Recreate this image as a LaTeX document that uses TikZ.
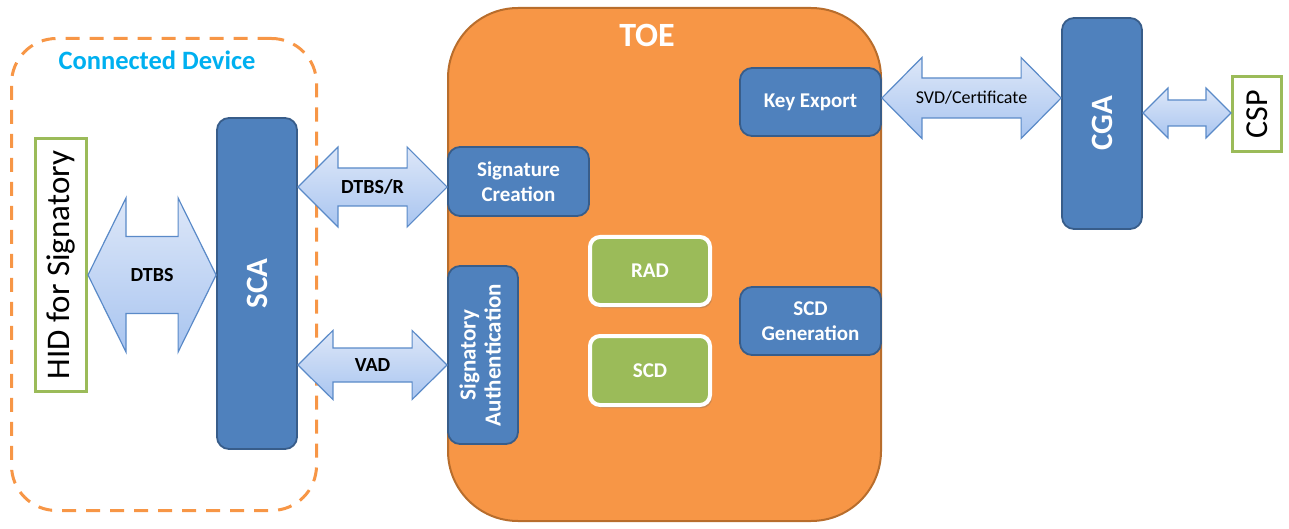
\documentclass[tikz,border=0pt]{standalone}
\usepackage{fontspec}
\setmainfont{Carlito}
\usetikzlibrary{calc,shadows}
\definecolor{boxblue}{HTML}{4F81BD}
\definecolor{boxbluedark}{HTML}{385D8A}
\definecolor{toeorange}{HTML}{F79646}
\definecolor{toeborder}{HTML}{B86D2C}
\definecolor{grn}{HTML}{9BBB59}
\definecolor{cyantext}{HTML}{00B0F0}
\definecolor{arrtop}{HTML}{DDE7F8}
\definecolor{arrbot}{HTML}{A9C5F0}
\definecolor{arrline}{HTML}{5A8AC8}
\tikzset{
  bluebox/.style={draw=boxbluedark, line width=1.8pt, fill=boxblue, rounded corners=12pt,
    text=white, inner sep=0pt, align=center},
  greenbox/.style={draw=white, line width=4pt, fill=grn, rounded corners=10pt, text=white,
    inner sep=0pt, font=\bfseries\fontsize{21}{24}\selectfont,
    drop shadow={shadow xshift=2pt, shadow yshift=-3pt, opacity=0.3, fill=black!60}},
  whitebox/.style={draw=grn, line width=3pt, fill=white, inner sep=0pt, text=black},
  arrowbody/.style={top color=arrtop, bottom color=arrbot, draw=arrline, line width=1.2pt, line join=miter},
  arrowlabel/.style={text=black, inner sep=0pt, font=\bfseries\fontsize{20}{22}\selectfont},
  inner/.style={font=\bfseries\fontsize{21}{25}\selectfont}
}
% #1 from anchor, #2 to anchor, #3 y, #4 head length, #5 half head, #6 half shaft
\newcommand\blockarrow[6]{%
  \shade[arrowbody] let \p1=(#1), \p2=(#2), \p3=(0,#3) in
    (\x1,\y3) -- (\x1+#4pt,\y3+#5pt) -- (\x1+#4pt,\y3+#6pt) -- (\x2-#4pt,\y3+#6pt)
    -- (\x2-#4pt,\y3+#5pt) -- (\x2,\y3) -- (\x2-#4pt,\y3-#5pt) -- (\x2-#4pt,\y3-#6pt)
    -- (\x1+#4pt,\y3-#6pt) -- (\x1+#4pt,\y3-#5pt) -- cycle;
}
% #1 from anchor, #2 to anchor, #3 y, #4 name, #5 style, #6 text
\newcommand\arrowtext[6]{%
  \path let \p1=(#1), \p2=(#2), \p3=(0,#3) in
    node[arrowlabel,#5] (#4) at ({(\x1+\x2)/2},\y3) {#6};
}
\begin{document}
\begin{tikzpicture}[x=1pt,y=-1pt]
\useasboundingbox (0,0) rectangle (1289,529);

% Connected device (dashed)
\node[draw=toeorange, line width=3pt, dash pattern=on 14pt off 10pt, rounded corners=45pt,
      minimum width=305pt, minimum height=472pt, inner sep=0pt] (dev) at (164,274.5) {};
\node[text=cyantext, font=\bfseries\fontsize{26.5}{28}\selectfont, inner sep=0pt] (devlabel) at (157,60) {Connected Device};

% TOE
\node[draw=toeborder, line width=2pt, fill=toeorange, rounded corners=70pt,
      minimum width=433pt, minimum height=513pt, inner sep=0pt] (toe) at (664.5,264.5) {};
\node[text=white, font=\bfseries\fontsize{34}{36}\selectfont, inner sep=0pt] (toelabel) at (647,35) {TOE};

% HID and CSP
\node[whitebox, minimum width=51pt, minimum height=253pt] (hid) at (61,265)
  {\rotatebox{90}{\fontsize{33}{35}\selectfont HID for Signatory}};
\node[whitebox, minimum width=49pt, minimum height=75pt] (csp) at (1257,114)
  {\rotatebox{90}{\fontsize{32}{34}\selectfont CSP}};

% Blue boxes
\node[bluebox, minimum width=80pt, minimum height=331pt] (sca) at (257,283.5)
  {\rotatebox{90}{\bfseries\fontsize{31}{33}\selectfont SCA}};
\node[bluebox, minimum width=80pt, minimum height=211pt] (cga) at (1102,123.5)
  {\rotatebox{90}{\bfseries\fontsize{31}{33}\selectfont CGA}};
\node[bluebox, inner, minimum width=141pt, minimum height=68pt] (keyexp) at (810.5,102) {Key Export};
\node[bluebox, inner, minimum width=141pt, minimum height=69pt] (sigc) at (518.5,181.5) {Signature\\Creation};
\node[bluebox, minimum width=70pt, minimum height=178pt] (sigauth) at (483,355)
  {\rotatebox{90}{\bfseries\fontsize{23}{25}\selectfont\begin{tabular}{@{}c@{}}Signatory\\Authentication\end{tabular}}};
\node[bluebox, inner, minimum width=141pt, minimum height=68pt] (scdgen) at (810.5,321) {SCD\\Generation};

% Green boxes
\node[greenbox, minimum width=120pt, minimum height=68pt] (rad) at (650,271) {RAD};
\node[greenbox, minimum width=120pt, minimum height=69pt] (scd) at (650,370.5) {SCD};

% Block arrows
\blockarrow{hid.east}{sca.west}{275}{38}{77}{38.5}
\blockarrow{sca.east}{sigc.west}{187}{40}{40}{19}
\blockarrow{sca.east}{sigauth.west}{365}{35}{34.5}{17}
\blockarrow{keyexp.east}{cga.west}{98}{40}{40.5}{20}
\blockarrow{cga.east}{csp.west}{113}{25}{25}{13}

\arrowtext{hid.east}{sca.west}{275}{ldtbs}{}{DTBS}
\arrowtext{sca.east}{sigc.west}{187}{ldtbsr}{}{DTBS/R}
\arrowtext{sca.east}{sigauth.west}{365}{lvad}{}{VAD}
\arrowtext{keyexp.east}{cga.west}{98}{lsvd}{font=\fontsize{18}{20}\selectfont}{SVD/Certificate}
\end{tikzpicture}
\end{document}
